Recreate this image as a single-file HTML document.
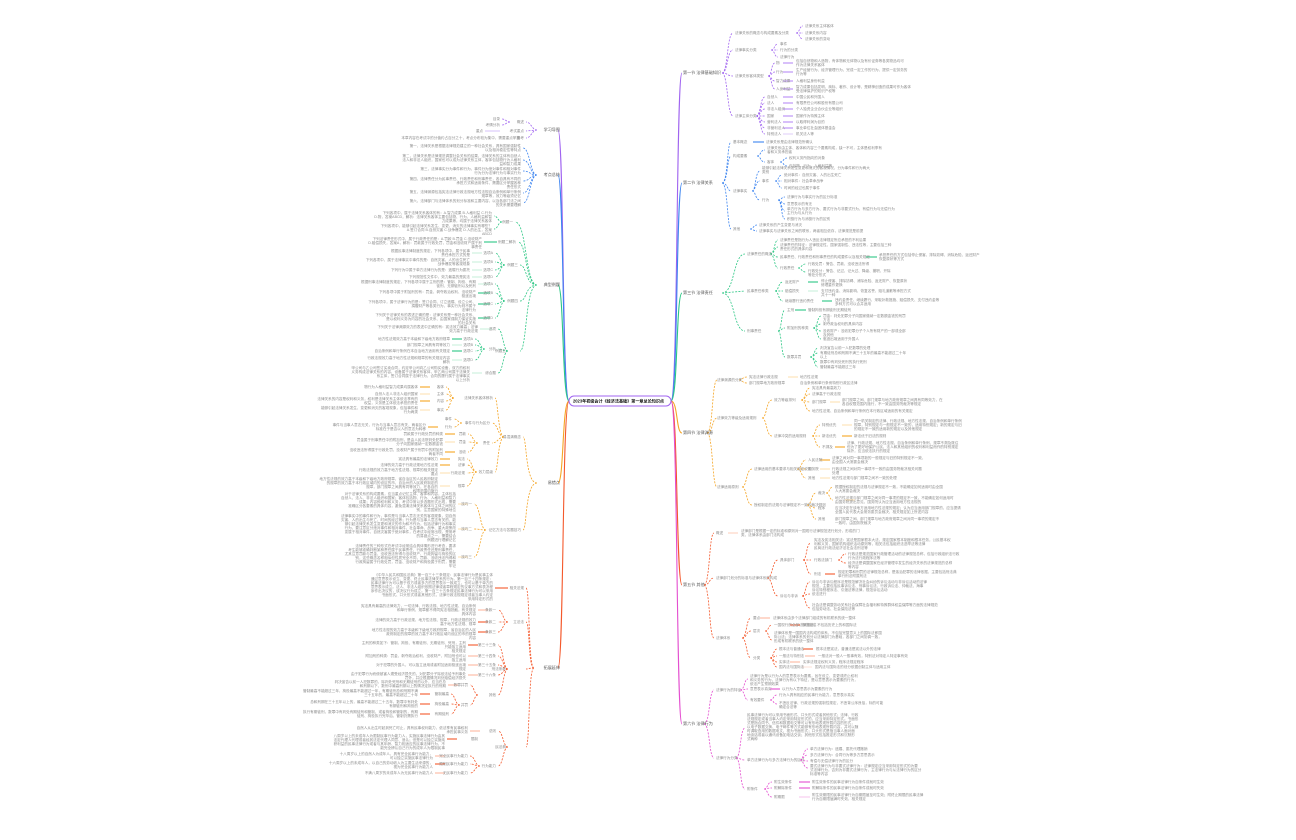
<!DOCTYPE html>
<html><head><meta charset="utf-8"><style>
html,body{margin:0;padding:0;background:#fff;}
svg{display:block}
.t{font:3.6px "Liberation Sans","Noto Sans CJK SC",sans-serif;fill:#8c8c8c}
.l{font:4.1px "Liberation Sans","Noto Sans CJK SC",sans-serif;fill:#555}
.d{fill:none;stroke-width:.8;stroke-dasharray:2 1.3}
.s{fill:none;stroke-width:1.1}
.e{text-anchor:end}
</style></head><body>
<svg width="1296" height="840" viewBox="0 0 1296 840" xmlns="http://www.w3.org/2000/svg">
<g class="s" stroke-width="1.4">
<path d="M671 401 C678 401 676 73 682 73" stroke="#a064f0"/>
<path d="M671 401 C678 401 676 183 682 183" stroke="#3d85f0"/>
<path d="M671 401 C678 401 676 293 682 293" stroke="#2cc784"/>
<path d="M671 401 C678 401 676 433 682 433" stroke="#f5a524"/>
<path d="M671 401 C678 401 676 585 682 585" stroke="#f4592c"/>
<path d="M671 401 C678 401 676 724 682 724" stroke="#e44fd0"/>
<path d="M569 401 C562 401 564 130 558 130" stroke="#a064f0"/>
<path d="M569 401 C562 401 564 175 558 175" stroke="#3d85f0"/>
<path d="M569 401 C562 401 564 285 558 285" stroke="#2cc784"/>
<path d="M569 401 C562 401 564 483 558 483" stroke="#f5a524"/>
<path d="M569 401 C562 401 564 668 558 668" stroke="#f4592c"/>
</g>
<rect x="569" y="396" width="102" height="10" rx="5" fill="#fff" stroke="#a064f0" stroke-width="1"/>
<text x="573" y="402.6" style="font:bold 4.1px 'Liberation Sans','Noto Sans CJK SC',sans-serif;fill:#111">2023年初级会计《经济法基础》第一章总论知识点</text>

<g class="d" stroke="#a064f0">
<path d="M722 73 C728 73 727 33 733 33"/><path d="M722 73 C728 73 727 50 733 50"/><path d="M722 73 C728 73 727 76 733 76"/><path d="M722 73 C728 73 727 116 733 116"/>
<path d="M796 33 C800 33 799 26 803 26"/><path d="M796 33 L803 33"/><path d="M796 33 C800 33 799 39 803 39"/>
<path d="M771 50 C775 50 774 44 778 44"/><path d="M771 50 L778 50"/><path d="M771 50 C775 50 774 57 778 57"/>
<path d="M768 76 C772 76 771 63 775 63"/><path d="M768 76 C772 76 771 72 775 72"/><path d="M768 76 C772 76 771 81 775 81"/><path d="M768 76 C772 76 771 89 775 89"/>
<path d="M756 116 C761 116 760 97 765 97"/><path d="M756 116 C761 116 760 103 765 103"/><path d="M756 116 C761 116 760 109 765 109"/><path d="M756 116 L765 116"/><path d="M756 116 C761 116 760 122 765 122"/><path d="M756 116 C761 116 760 128 765 128"/><path d="M756 116 C761 116 760 134 765 134"/>
</g>
<g class="s" stroke="#b88cf5"><path d="M783 63 H793"/><path d="M783 72 H793"/><path d="M783 81 H793"/><path d="M783 89 H793"/><path d="M783 97 H793"/><path d="M783 103 H793"/><path d="M783 109 H793"/><path d="M783 116 H793"/><path d="M783 122 H793"/><path d="M783 128 H793"/><path d="M783 134 H793" stroke="#e2d2fa"/></g>
<text class="l" x="683" y="74">第一节 法律基础知识</text>
<text class="t" x="735" y="34">法律关系的概念与构成要素及分类</text>
<text class="t" x="805" y="27">法律关系主体客体</text><text class="t" x="805" y="34">法律关系内容</text><text class="t" x="805" y="40">法律关系的变动</text>
<text class="t" x="735" y="51">法律事实分类</text>
<text class="t" x="780" y="45">事件</text><text class="t" x="780" y="51">行为的分类</text><text class="t" x="780" y="58">法律行为</text>
<text class="t" x="735" y="77">法律关系客体类型</text>
<text class="t" x="776" y="64">物</text><text class="t" x="776" y="73">行为</text><text class="t" x="776" y="82">智力成果</text><text class="t" x="776" y="90">人身利益</text>
<text class="t" x="796" y="62">包括自然物和人造物，有体物和无体物以及有价证券等各类物品均可</text><text class="t" x="796" y="66">作为法律关系客体</text>
<text class="t" x="796" y="71">生产经营行为、经济管理行为、完成一定工作的行为、提供一定劳务的</text><text class="t" x="796" y="75">行为等</text>
<text class="t" x="796" y="82">人格利益身份利益</text>
<text class="t" x="796" y="88">智力成果包括发明、商标、著作、设计等，是精神创造的成果可作为客体</text><text class="t" x="796" y="92">受法律保护的知识产权等</text>
<text class="t" x="735" y="117">法律主体分类</text>
<text class="t" x="767" y="98">自然人</text><text class="t" x="767" y="104">法人</text><text class="t" x="767" y="110">非法人组织</text><text class="t" x="767" y="117">国家</text><text class="t" x="767" y="123">营利法人</text><text class="t" x="767" y="129">非营利法人</text><text class="t" x="767" y="135">特别法人</text>
<text class="t" x="796" y="98">中国公民和外国人</text><text class="t" x="796" y="104">有限责任公司和股份有限公司</text><text class="t" x="796" y="110">个人独资企业合伙企业等组织</text><text class="t" x="796" y="117">国家作为特殊主体</text><text class="t" x="796" y="123">以取得利润为目的</text><text class="t" x="796" y="129">事业单位社会团体基金会</text><text class="t" x="796" y="135">机关法人等</text>

<g class="d" stroke="#3d85f0">
<path d="M722 183 C728 183 727 142 731 142"/><path d="M722 183 C728 183 727 156 731 156"/><path d="M722 183 C728 183 727 191 731 191"/><path d="M722 183 C728 183 727 229 731 229"/>
<path d="M757 156 C761 156 760 150 765 150"/><path d="M757 156 C761 156 760 162 765 162"/>
<path d="M780 162 C784 162 783 158 787 158"/><path d="M780 162 C784 162 783 166 787 166"/>
<path d="M752 191 C756 191 755 171 760 171"/><path d="M752 191 C756 191 755 181 760 181"/><path d="M752 191 C756 191 755 200 760 200"/>
<path d="M775 181 C779 181 778 175 782 175"/><path d="M775 181 L782 181"/><path d="M775 181 C779 181 778 188 782 188"/>
<path d="M778 200 C782 200 781 197 785 197"/><path d="M778 200 C782 200 781 204 785 204"/><path d="M778 200 C782 200 781 211 785 211"/><path d="M778 200 C782 200 781 219 785 219"/>
<path d="M750 229 C754 229 753 225 757 225"/><path d="M750 229 C754 229 753 231 757 231"/>
</g>
<path class="s" stroke="#3d85f0" d="M753 142 H764"/>
<text class="l" x="683" y="184">第二节 法律关系</text>
<text class="t" x="733" y="143">基本概念</text><text class="t" x="766" y="143">法律关系是由法律规范所确认</text>
<text class="t" x="733" y="157">构成要素</text>
<text class="t" x="767" y="149">法律关系由主体、客体和内容三个要素构成，缺一不可，主体是权利享有</text><text class="t" x="767" y="153">者和义务承担者</text>
<text class="t" x="767" y="163">客体</text><text class="t" x="789" y="159">权利义务所指向的对象</text><text class="t" x="789" y="167">包括物、行为、人格利益等</text>
<text class="t" x="733" y="192">法律事实</text>
<text class="t" x="762" y="169">能够引起法律关系发生变更和消灭的客观情况，分为事件和行为两大</text><text class="t" x="762" y="173">类别</text>
<text class="t" x="762" y="182">事件</text><text class="t" x="784" y="176">绝对事件：自然灾害、人的出生死亡</text><text class="t" x="784" y="182">相对事件：社会革命战争</text><text class="t" x="784" y="189">时间的经过也属于事件</text>
<text class="t" x="762" y="201">行为</text><text class="t" x="787" y="198">法律行为与事实行为的区分标准</text><text class="t" x="787" y="205">意思表示的有无</text><text class="t" x="787" y="210">单方行为与多方行为、要式行为与非要式行为、有偿行为与无偿行为</text><text class="t" x="787" y="214">主行为与从行为</text><text class="t" x="787" y="220">积极行为与消极行为的区别</text>
<text class="t" x="733" y="230">其他</text><text class="t" x="759" y="226">法律关系的产生变更与消灭</text><text class="t" x="759" y="232">法律事实与法律关系之间的联系，两者相互依存，法律规范是前提</text>

<g class="d" stroke="#2cc784">
<path d="M722 293 C735 293 733 254 745 254"/><path d="M722 293 L745 291"/><path d="M722 293 C735 293 733 331 745 331"/>
<path d="M770 254 C775 254 774 240 778 240"/><path d="M770 254 C775 254 774 247 778 247"/><path d="M770 254 C775 254 774 257 778 257"/><path d="M770 254 C775 254 774 268 778 268"/>
<path d="M798 268 C802 268 801 264 806 264"/><path d="M798 268 C802 268 801 272 806 272"/>
<path d="M775 291 C779 291 778 282 783 282"/><path d="M775 291 L783 291"/><path d="M775 291 C779 291 778 301 783 301"/>
<path d="M778 331 C782 331 781 310 785 310"/><path d="M778 331 C782 331 781 328 785 328"/><path d="M778 331 C782 331 781 357 785 357"/>
<path d="M813 328 C818 328 817 316 821 316"/><path d="M813 328 C818 328 817 324 821 324"/><path d="M813 328 C818 328 817 331 821 331"/><path d="M813 328 C818 328 817 339 821 339"/>
<path d="M810 357 C815 357 814 348 818 348"/><path d="M810 357 C815 357 814 353 818 353"/><path d="M810 357 C815 357 814 362 818 362"/><path d="M810 357 C815 357 814 367 818 367"/>
</g>
<g class="s" stroke="#2cc784"><path d="M866 257 H877"/><path d="M808 282 H818"/><path d="M808 291 H818" stroke="#c9f0dc"/><path d="M822 301 H832"/><path d="M795 310 H806"/></g>
<text class="l" x="683" y="294">第三节 法律责任</text>
<text class="t" x="747" y="255">法律责任的概念</text>
<text class="t" x="780" y="241">法律责任是指行为人违反法律规定所应承担的不利后果</text>
<text class="t" x="780" y="246">法律责任的特征：法律规定性、国家强制性、违法性等，主要包括三种</text><text class="t" x="780" y="250">责任形式的具体内容</text>
<text class="t" x="780" y="258">民事责任、行政责任和刑事责任的构成要件以及相关规定</text>
<text class="t" x="879" y="256">承担责任的方式包括停止侵害、排除妨碍、消除危险、返还财产</text><text class="t" x="879" y="260">恢复原状等方式</text>
<text class="t" x="780" y="269">行政责任</text><text class="t" x="808" y="265">行政处罚：警告、罚款、没收违法所得</text><text class="t" x="808" y="272">行政处分：警告、记过、记大过、降级、撤职、开除</text><text class="t" x="808" y="276">等处分形式</text>
<text class="t" x="747" y="292">民事责任种类</text>
<text class="t" x="785" y="283">返还财产</text><text class="t" x="821" y="282">停止侵害、排除妨碍、消除危险、返还财产、恢复原状</text><text class="t" x="821" y="286">修理重作更换</text>
<text class="t" x="785" y="292">赔偿损失</text><text class="t" x="821" y="292">支付违约金、消除影响、恢复名誉、赔礼道歉等承担方式</text><text class="t" x="821" y="296">共十一种</text>
<text class="t" x="785" y="302">继续履行违约责任</text><text class="t" x="835" y="301">违约金责任、继续履行、采取补救措施、赔偿损失、支付违约金等</text><text class="t" x="835" y="305">多种方式可以合并适用</text>
<text class="t" x="747" y="332">刑事责任</text>
<text class="t" x="787" y="311">主刑</text><text class="t" x="808" y="311">管制拘役有期徒刑无期徒刑</text>
<text class="t" x="787" y="329">附加刑的种类</text>
<text class="t" x="823" y="317">罚金：判处犯罪分子向国家缴纳一定数额金钱的刑罚</text><text class="t" x="823" y="321">方法</text>
<text class="t" x="823" y="325">剥夺政治权利的具体内容</text><text class="t" x="823" y="332">没收财产：没收犯罪分子个人所有财产的一部或全部</text><text class="t" x="823" y="336">及其他</text>
<text class="t" x="823" y="340">驱逐出境适用于外国人</text>
<text class="t" x="787" y="358">数罪并罚</text>
<text class="t" x="820" y="349">判决宣告以前一人犯数罪的处理</text><text class="t" x="820" y="354">有期徒刑总和刑期不满三十五年的最高不能超过二十年</text><text class="t" x="820" y="358">以上</text>
<text class="t" x="820" y="363">数罪中有判处死刑的执行死刑</text><text class="t" x="820" y="368">管制最高不能超过三年</text>

<g class="d" stroke="#f5a524">
<path d="M707 433 C713 433 712 380 717 380"/><path d="M707 433 C713 433 712 418 717 418"/><path d="M707 433 C713 433 712 487 717 487"/>
<path d="M739 380 C743 380 742 377 747 377"/><path d="M739 380 C743 380 742 383 747 383"/>
<path d="M762 418 C767 418 766 400 772 400"/><path d="M762 418 C767 418 766 436 772 436"/>
<path d="M801 400 C806 400 805 388 810 388"/><path d="M801 400 C806 400 805 394 810 394"/><path d="M801 400 C806 400 805 402 810 402"/><path d="M801 400 C806 400 805 411 810 411"/>
<path d="M812 436 C816 436 815 425 820 425"/><path d="M812 436 L820 436"/><path d="M812 436 C816 436 815 447 820 447"/>
<path d="M742 487 C747 487 746 469 752 469"/><path d="M742 487 C747 487 746 505 752 505"/>
<path d="M797 469 C802 469 801 460 806 460"/><path d="M797 469 C802 469 801 469 806 469"/><path d="M797 469 C802 469 801 478 806 478"/>
<path d="M807 505 C812 505 811 493 816 493"/><path d="M807 505 C812 505 811 508 816 508"/><path d="M807 505 C812 505 811 519 816 519"/>
<path d="M826 493 C830 493 829 487 833 487"/><path d="M826 493 C830 493 829 500 833 500"/>
</g>
<g class="s" stroke="#f5a524"><path d="M788 377 H798" stroke="#fde2b3"/><path d="M830 402 H840" stroke="#fde2b3"/><path d="M842 425 H852" stroke="#fde2b3"/><path d="M842 436 H852"/><path d="M835 447 H845"/><path d="M820 460 H830"/><path d="M820 469 H830" stroke="#fde2b3"/><path d="M820 478 H830" stroke="#fde2b3"/><path d="M845 500 H855" stroke="#fde2b3"/></g>
<text class="l" x="683" y="434">第四节 法律渊源</text>
<text class="t" x="717" y="381">法律渊源的分类</text>
<text class="t" x="749" y="378">宪法法律行政法规</text><text class="t" x="800" y="378">地方性法规</text>
<text class="t" x="749" y="384">部门规章地方政府规章</text><text class="t" x="800" y="384">自治条例和单行条例特别行政区法律</text>
<text class="t" x="717" y="419">法律效力等级及适用规则</text>
<text class="t" x="774" y="401">效力等级排列</text>
<text class="t" x="812" y="389">宪法具有最高效力</text><text class="t" x="812" y="395">法律高于行政法规</text>
<text class="t" x="812" y="403">部门规章</text><text class="t" x="842" y="401">部门规章之间、部门规章与地方政府规章之间具有同等效力，在</text><text class="t" x="842" y="405">各自权限范围内施行，不一致由国务院裁决等规定</text>
<text class="t" x="812" y="412">地方性法规、自治条例和单行条例在本行政区域适用的有关规定</text>
<text class="t" x="774" y="437">法律冲突的适用规则</text>
<text class="t" x="822" y="426">特别优先</text><text class="t" x="854" y="422">同一机关制定的法律、行政法规、地方性法规、自治条例和单行条例</text><text class="t" x="854" y="426">规章，特别规定与一般规定不一致的，适用特别规定；新的规定与旧</text><text class="t" x="854" y="430">的规定不一致的适用新的规定以及其他规定</text>
<text class="t" x="822" y="437">新法优先</text><text class="t" x="854" y="437">新法优于旧法的规则</text>
<text class="t" x="822" y="448">不溯及</text><text class="t" x="847" y="444">法律、行政法规、地方性法规、自治条例和单行条例、规章不溯及既往</text><text class="t" x="847" y="448">但为了更好地保护公民、法人和其他组织的权利和利益而作的特别规定</text><text class="t" x="847" y="452">除外，应当依法执行的规定</text>
<text class="t" x="717" y="488">法律适用原则</text>
<text class="t" x="754" y="470">法律适用的基本要求与相关规定说明</text>
<text class="t" x="808" y="461">人民法院</text><text class="t" x="832" y="459">法律之间对同一事项新的一般规定与旧的特别规定不一致，</text><text class="t" x="832" y="463">由全国人大常委会裁决</text>
<text class="t" x="808" y="470">国务院</text><text class="t" x="832" y="470">行政法规之间对同一事项不一致的由国务院裁决相关问题</text><text class="t" x="832" y="474">处理</text>
<text class="t" x="808" y="479">其他</text><text class="t" x="832" y="479">地方性法规与部门规章之间不一致的处理</text>
<text class="t" x="754" y="506">授权制定的法规与法律规定不一致的裁决规则</text>
<text class="t" x="818" y="494">裁决</text><text class="t" x="835" y="488">根据授权制定的法规与法律规定不一致，不能确定如何适用时由全国</text><text class="t" x="835" y="492">人大常委会裁决</text>
<text class="t" x="835" y="499">地方性法规与部门规章之间对同一事项的规定不一致，不能确定如何适用时</text><text class="t" x="835" y="503">由国务院提出意见，国务院认为应当适用地方性法规的</text>
<text class="t" x="818" y="509">程序</text><text class="t" x="835" y="509">应当决定在该地方适用地方性法规的规定；认为应当适用部门规章的，应当提请</text><text class="t" x="835" y="513">全国人民代表大会常务委员会裁决，相关规定如上所述内容</text>
<text class="t" x="818" y="520">其他</text><text class="t" x="835" y="520">部门规章之间、部门规章与地方政府规章之间对同一事项的规定不</text><text class="t" x="835" y="524">一致时，由国务院裁决</text>

<g class="d" stroke="#f4592c">
<path d="M704 585 C710 585 709 533 714 533"/><path d="M704 585 C710 585 709 578 714 578"/><path d="M704 585 C710 585 709 638 714 638"/>
<path d="M767 578 C773 578 772 560 778 560"/><path d="M767 578 C773 578 772 596 778 596"/>
<path d="M803 560 C807 560 806 543 811 543"/><path d="M803 560 L811 560"/><path d="M803 560 C807 560 806 574 811 574"/>
<path d="M838 560 C842 560 841 554 846 554"/><path d="M838 560 C842 560 841 563 846 563"/>
<path d="M802 596 C806 596 805 582 810 582"/><path d="M802 596 C806 596 805 594 810 594"/><path d="M802 596 C806 596 805 608 810 608"/>
<path d="M742 638 C747 638 746 618 751 618"/><path d="M742 638 C747 638 746 631 751 631"/><path d="M742 638 C747 638 746 658 751 658"/>
<path d="M765 631 C769 631 768 625 772 625"/><path d="M765 631 C769 631 768 640 772 640"/>
<path d="M770 658 C774 658 773 649 777 649"/><path d="M770 658 C774 658 773 656 777 656"/><path d="M770 658 C774 658 773 662 777 662"/><path d="M770 658 C774 658 773 667 777 667"/>
</g>
<g class="s" stroke="#f4592c"><path d="M728 533 H738" stroke="#fcd0c0"/><path d="M825 574 H835"/><path d="M760 618 H770" stroke="#fcb8a0"/><path d="M790 625 H800"/><path d="M803 649 H813"/><path d="M805 656 H815" stroke="#fcb8a0"/><path d="M790 662 H800" stroke="#fcb8a0"/><path d="M802 667 H812" stroke="#fde3da"/></g>
<text class="l" x="683" y="586">第五节 其他</text>
<text class="t" x="716" y="534">概述</text><text class="t" x="741" y="532">法律部门是根据一定的标准和原则对一国现行法律规范进行划分，形成的门</text><text class="t" x="741" y="536">类，法律体系由部门法构成</text>
<text class="t" x="716" y="579">法律部门划分的标准与法律体系的构成</text>
<text class="t" x="780" y="561">具体部门</text>
<text class="t" x="814" y="541">宪法及宪法相关法：宪法是国家根本大法，规定国家根本制度和根本任务，公民基本权</text><text class="t" x="814" y="545">利和义务，国家机构组织活动原则等，相关法包括组织法选举法等法律</text><text class="t" x="814" y="549">民商法行政法经济法社会法刑法等</text>
<text class="t" x="814" y="561">行政法部门</text><text class="t" x="848" y="555">行政法是规范国家行政管理活动的法律规范总称，包括行政组织法行政</text><text class="t" x="848" y="559">行为法行政程序法等</text><text class="t" x="848" y="564">经济法是调整国家在经济管理中发生的经济关系的法律规范的总称</text><text class="t" x="848" y="568">等内容</text>
<text class="t" x="814" y="575">刑法</text><text class="t" x="838" y="573">规定犯罪和刑罚的法律规范总称，是惩治犯罪的法律依据，主要包括刑法典</text><text class="t" x="838" y="577">单行刑法附属刑法</text>
<text class="t" x="780" y="597">诉讼与非诉</text>
<text class="t" x="812" y="583">诉讼与非诉讼程序法是规范解决社会纠纷的诉讼活动与非诉讼活动的法律</text><text class="t" x="812" y="587">规范，主要包括民事诉讼法、刑事诉讼法、行政诉讼法、仲裁法、海事</text><text class="t" x="812" y="591">诉讼特别程序法、引渡法等法律，规范诉讼活动</text><text class="t" x="812" y="595">依法进行</text>
<text class="t" x="812" y="606">社会法是调整劳动关系社会保障社会福利和特殊群体权益保障等方面的法律规范</text><text class="t" x="812" y="610">包括劳动法、社会保险法等</text>
<text class="t" x="716" y="639">法律体系</text>
<text class="t" x="753" y="619">要点</text><text class="t" x="773" y="619">法律体系由多个法律部门组成的有机联系的统一整体</text>
<text class="t" x="753" y="632">层次</text><text class="t" x="774" y="626">一国现行的全部法律规范，不包括历史上的和国际法</text><text class="t" x="802" y="626">规范组成</text>
<text class="t" x="774" y="634">法律体系是一国国内法构成的体系，不包括完整意义上的国际法即国</text><text class="t" x="774" y="638">际公法；法律体系的划分以法律部门为基础，各部门之间协调一致，</text><text class="t" x="774" y="642">形成有机联系的统一整体</text>
<text class="t" x="753" y="659">分类</text><text class="t" x="779" y="650">根本法与普通法</text><text class="t" x="816" y="650">根本法是宪法，普通法是宪法以外的法律</text>
<text class="t" x="779" y="657">一般法与特别法</text><text class="t" x="818" y="657">一般法对一般人一般事有效，特别法对特定人特定事有效</text>
<text class="t" x="779" y="663">实体法</text><text class="t" x="803" y="663">实体法规定权利义务，程序法规定程序</text>
<text class="t" x="779" y="668">国内法与国际法</text><text class="t" x="815" y="668">国内法与国际法的划分依据创制主体与适用主体</text>

<g class="d" stroke="#e44fd0">
<path d="M704 724 C710 724 709 690 714 690"/><path d="M704 724 C710 724 709 758 714 758"/>
<path d="M740 690 C745 690 744 679 748 679"/><path d="M740 690 C745 690 744 689 748 689"/><path d="M740 690 C745 690 744 700 748 700"/>
<path d="M770 700 C774 700 773 695 777 695"/><path d="M770 700 C774 700 773 704 777 704"/>
<path d="M736 758 C741 758 740 728 745 728"/><path d="M736 758 C741 758 740 760 745 760"/><path d="M736 758 C741 758 740 789 745 789"/>
<path d="M800 760 C804 760 803 749 808 749"/><path d="M800 760 C804 760 803 755 808 755"/><path d="M800 760 C804 760 803 761 808 761"/><path d="M800 760 C804 760 803 768 808 768"/>
<path d="M764 789 C768 789 767 782 772 782"/><path d="M764 789 C768 789 767 788 772 788"/><path d="M764 789 C768 789 767 797 772 797"/>
</g>
<g class="s" stroke="#e44fd0"><path d="M770 689 H780"/><path d="M799 782 H810"/><path d="M799 788 H810"/><path d="M799 797 H810" stroke="#f7c8ef"/></g>
<text class="l" x="683" y="725">第六节 法律行为</text>
<text class="t" x="716" y="691">法律行为的特征</text>
<text class="t" x="750" y="677">法律行为是以行为人的意思表示为要素，旨在设立、变更或终止权利</text><text class="t" x="750" y="681">和义务的行为，法律行为有以下特征，是以意思表示为要素的行为，</text><text class="t" x="750" y="685">依法产生预期效果</text>
<text class="t" x="750" y="690">意思表示真实</text><text class="t" x="782" y="690">以行为人意思表示为要素的行为</text>
<text class="t" x="750" y="701">有效要件</text><text class="t" x="779" y="696">行为人具有相应的民事行为能力，意思表示真实</text><text class="t" x="779" y="704">不违反法律、行政法规的强制性规定，不违背公序良俗，标的可能</text><text class="t" x="779" y="708">确定合法等</text>
<text class="t" x="716" y="759">法律行为分类</text>
<text class="t" x="747" y="716">民事法律行为可以采用书面形式、口头形式或者其他形式；法律、行政</text><text class="t" x="747" y="720">法规规定或者当事人约定采用特定形式的，应当采用特定形式。书面形</text><text class="t" x="747" y="724">式是指合同书、信件和数据电文等可以有形地表现所载内容的形式，</text><text class="t" x="747" y="728">以电子数据交换、电子邮件等方式能够有形地表现所载内容，并可以随</text><text class="t" x="747" y="732">时调取查用的数据电文，视为书面形式；口头形式是指当事人面对面</text><text class="t" x="747" y="736">地谈话或者以通讯设备如电话交谈；其他形式包括推定形式和沉默形</text><text class="t" x="747" y="740">式两种</text>
<text class="t" x="747" y="761">单方法律行为与多方法律行为的区分</text>
<text class="t" x="810" y="750">单方法律行为：遗嘱、委托代理撤销</text><text class="t" x="810" y="756">多方法律行为：合同行为等多方意思表示</text><text class="t" x="810" y="762">有偿与无偿法律行为的区分</text>
<text class="t" x="810" y="767">要式法律行为与非要式法律行为：法律规定应当采用特定形式的为要</text><text class="t" x="810" y="771">式法律行为，否则为非要式法律行为，主法律行为与从法律行为的区分</text><text class="t" x="810" y="775">标准等内容</text>
<text class="t" x="747" y="790">附条件</text>
<text class="t" x="774" y="783">附生效条件</text><text class="t" x="812" y="783">附生效条件的民事法律行为自条件成就时生效</text>
<text class="t" x="774" y="789">附解除条件</text><text class="t" x="812" y="789">附解除条件的民事法律行为自条件成就时失效</text>
<text class="t" x="774" y="798">附期限</text><text class="t" x="812" y="796">附生效期限的民事法律行为自期限届至时生效；附终止期限的民事法律</text><text class="t" x="812" y="800">行为自期限届满时失效，相关规定</text>

<g class="d" stroke="#a064f0">
<path d="M537 130 C532 130 531 122 526 122"/><path d="M537 130 L526 131"/><path d="M537 130 C532 130 531 138 526 138"/>
<path d="M510 122 C506 122 506 119 502 119"/><path d="M510 122 C506 122 506 125 502 125"/>
</g>
<path class="s" stroke="#d9c6fa" d="M485 131 H500"/>
<text class="l e" x="560" y="131">学习导图</text>
<text class="t e" x="524" y="123">概述</text><text class="t e" x="500" y="120">目录</text><text class="t e" x="500" y="126">考情分析</text>
<text class="t e" x="524" y="132">考试重点</text><text class="t e" x="483" y="132">重点</text>
<text class="t e" x="524" y="139">备考</text><text class="t e" x="520" y="139">本章内容在考试中的分值约占百分之十，考点分布较为集中，需要重点掌握</text>

<g class="d" stroke="#3d85f0">
<path d="M537 175 C530 175 530 148 523 148"/><path d="M537 175 C530 175 530 160 523 160"/><path d="M537 175 C530 175 530 171 523 171"/><path d="M537 175 C530 175 530 181 523 181"/><path d="M537 175 C530 175 530 193 523 193"/><path d="M537 175 C530 175 530 203 523 203"/>
</g>
<text class="l e" x="560" y="176">考点总结</text>
<text class="t e" x="521" y="147">第一，法律关系是根据法律规范建立的一种社会关系，具有国家强制性</text><text class="t e" x="521" y="151">以及相对稳定性等特点</text>
<text class="t e" x="521" y="157">第二，法律关系是法律规范调整社会关系的结果，法律关系的主体有自然人</text><text class="t e" x="521" y="161">法人和非法人组织，国家也可以成为法律关系主体，客体包括物行为人格利</text><text class="t e" x="521" y="165">益和智力成果</text>
<text class="t e" x="521" y="170">第三，法律事实分为事件和行为，事件分为绝对事件和相对事件</text><text class="t e" x="521" y="174">行为分为法律行为与事实行为</text>
<text class="t e" x="521" y="180">第四，法律责任分为民事责任、行政责任和刑事责任，各自具有不同的</text><text class="t e" x="521" y="184">承担方式和适用条件，需要区分掌握各种</text><text class="t e" x="521" y="188">责任形式</text>
<text class="t e" x="521" y="193">第五，法律渊源包括宪法法律行政法规地方性法规自治条例和单行条例</text><text class="t e" x="521" y="197">规章等，效力等级须记忆</text>
<text class="t e" x="521" y="202">第六，法律部门与法律体系的划分标准和主要内容，以及各部门法之间</text><text class="t e" x="521" y="206">的关系需要理解</text>

<g class="d" stroke="#2cc784">
<path d="M537 285 C525 285 527 222 515 222"/><path d="M537 285 C525 285 527 242 518 242"/><path d="M537 285 C525 285 527 265 520 265"/><path d="M537 285 C525 285 527 301 520 301"/><path d="M537 285 C525 285 527 351 520 351"/>
<path d="M502 222 C498 222 498 216 494 216"/><path d="M502 222 C498 222 498 229 494 229"/>
<path d="M505 265 C500 265 500 253 495 253"/><path d="M505 265 C500 265 500 262 495 262"/><path d="M505 265 C500 265 500 270 495 270"/><path d="M505 265 C500 265 500 277 495 277"/>
<path d="M505 301 C500 301 500 284 495 284"/><path d="M505 301 C500 301 500 293 495 293"/><path d="M505 301 C500 301 500 304 495 304"/><path d="M505 301 C500 301 500 318 495 318"/>
<path d="M508 351 C503 351 503 329 498 329"/><path d="M508 351 C503 351 503 349 498 349"/><path d="M508 351 C503 351 503 373 498 373"/>
<path d="M485 349 C480 349 480 339 475 339"/><path d="M485 349 C480 349 480 345 475 345"/><path d="M485 349 C480 349 480 351 475 351"/><path d="M485 349 C480 349 480 360 475 360"/>
</g>
<g class="s" stroke="#2cc784"><path d="M484 242 H497"/><path d="M472 253 H482" stroke="#c9f0dc"/><path d="M472 262 H482" stroke="#c9f0dc"/><path d="M472 270 H482" stroke="#c9f0dc"/><path d="M472 277 H482" stroke="#c9f0dc"/><path d="M478 284 H490" stroke="#c9f0dc"/><path d="M478 293 H490"/><path d="M478 304 H490"/><path d="M478 318 H490"/><path d="M480 329 H492" stroke="#c9f0dc"/><path d="M452 339 H462"/><path d="M452 345 H462" stroke="#c9f0dc"/><path d="M452 351 H462"/><path d="M452 360 H462" stroke="#c9f0dc"/><path d="M472 373 H482" stroke="#c9f0dc"/></g>
<text class="l e" x="560" y="286">典型例题</text>
<text class="t e" x="513" y="223">例题一</text>
<text class="t e" x="492" y="214">下列各项中，属于法律关系客体的有：A.智力成果 B.人格利益 C.行为</text><text class="t e" x="492" y="218">D.物，答案ABCD，解析：法律关系客体主要包括物、行为、人格利益和智</text><text class="t e" x="492" y="222">力成果等，均属于法律关系客体</text>
<text class="t e" x="492" y="227">下列各项中，能够引起法律关系发生、变更、消灭的法律事实有哪些？</text><text class="t e" x="492" y="231">A.签订合同 B.自然灾害 C.战争爆发 D.人的出生，答案</text><text class="t e" x="492" y="235">ABCD</text>
<text class="t e" x="516" y="243">例题二解析</text>
<text class="t e" x="482" y="240">下列法律责任形式中，属于行政责任的是：A.罚款 B.罚金 C.没收财产</text><text class="t e" x="482" y="244">D.赔偿损失，答案A，解析：罚款属于行政处罚，罚金和没收财产属于刑</text><text class="t e" x="482" y="248">事责任</text>
<text class="t e" x="518" y="266">例题三</text>
<text class="t e" x="493" y="254">选项A</text><text class="t e" x="493" y="263">选项B</text><text class="t e" x="493" y="271">选项C</text><text class="t e" x="493" y="278">选项D</text>
<text class="t e" x="470" y="252">根据民事法律制度的规定，下列各项中，属于民事</text><text class="t e" x="470" y="256">责任承担方式的是</text>
<text class="t e" x="470" y="261">下列各项中，属于法律事实中事件的是：自然灾害、人的出生死亡</text><text class="t e" x="470" y="265">战争爆发等客观现象</text>
<text class="t e" x="470" y="271">下列行为中属于单方法律行为的是：遗嘱行为委托</text>
<text class="t e" x="470" y="278">下列规范性文件中，效力最高的是宪法</text>
<text class="t e" x="518" y="302">例题四</text>
<text class="t e" x="493" y="285">选项A</text><text class="t e" x="493" y="294">选项B</text><text class="t e" x="493" y="305">选项C</text><text class="t e" x="493" y="319">选项D</text>
<text class="t e" x="476" y="283">根据刑事法律制度的规定，下列各项中属于主刑的是：管制、拘役、有期</text><text class="t e" x="476" y="287">徒刑、无期徒刑以及死刑</text>
<text class="t e" x="476" y="293">下列各项中属于附加刑的有：罚金、剥夺政治权利、没收财产</text><text class="t e" x="476" y="297">驱逐出境</text>
<text class="t e" x="476" y="303">下列各项中，属于法律行为的是：签订合同、订立遗嘱、设立公司、</text><text class="t e" x="476" y="307">捐赠财产等各类行为，事实行为则不属于</text><text class="t e" x="476" y="311">法律行为</text>
<text class="t e" x="476" y="316">下列关于法律关系的表述正确的是：法律关系是一种社会关系、</text><text class="t e" x="476" y="320">是以权利义务为内容的社会关系、由国家强制力保证实施</text><text class="t e" x="476" y="324">的社会关系</text>
<text class="t e" x="506" y="352">例题五</text>
<text class="t e" x="496" y="330">选项</text><text class="t e" x="478" y="328">下列关于法律渊源效力的表述中正确的有：宪法效力最高；法律</text><text class="t e" x="478" y="332">效力高于行政法规</text>
<text class="t e" x="496" y="350">分析</text>
<text class="t e" x="473" y="340">选项A</text><text class="t e" x="473" y="346">选项B</text><text class="t e" x="473" y="352">选项C</text><text class="t e" x="473" y="361">选项D</text>
<text class="t e" x="450" y="340">地方性法规效力高于本级和下级地方政府规章</text>
<text class="t e" x="450" y="346">部门规章之间具有同等效力</text>
<text class="t e" x="450" y="352">自治条例和单行条例在本自治地方适用有关规定</text>
<text class="t e" x="450" y="359">行政法规效力高于地方性法规和规章的有关规定内容</text><text class="t e" x="450" y="363">解析</text>
<text class="t e" x="496" y="374">综合题</text>
<text class="t e" x="470" y="369">甲公司与乙公司签订买卖合同，约定甲公司向乙公司购买设备，双方的权利</text><text class="t e" x="470" y="373">义务构成法律关系的内容，设备属于法律关系客体，甲乙两公司属于法律关</text><text class="t e" x="470" y="377">系主体，签订合同属于法律行为，合同的履行属于法律事实</text><text class="t e" x="470" y="381">以上分析</text>

<g class="d" stroke="#f5a524">
<path d="M537 483 C525 483 527 437 523 437"/><path d="M537 483 C525 483 527 530 523 530"/>
<path d="M504 437 C498 437 498 398 495 398"/><path d="M504 437 C498 437 498 423 492 423"/><path d="M504 437 C498 437 498 443 492 443"/><path d="M504 437 C498 437 498 472 495 472"/>
<path d="M454 398 C450 398 450 387 446 387"/><path d="M454 398 C450 398 450 394 446 394"/><path d="M454 398 C450 398 450 401 446 401"/><path d="M454 398 C450 398 450 410 446 410"/>
<path d="M462 423 C458 423 458 419 454 419"/><path d="M462 423 C458 423 458 427 454 427"/>
<path d="M478 443 C473 443 473 434 468 434"/><path d="M478 443 C473 443 473 442 468 442"/><path d="M478 443 C473 443 473 452 468 452"/>
<path d="M477 472 C472 472 472 459 467 459"/><path d="M477 472 C472 472 472 465 467 465"/><path d="M477 472 C472 472 472 473 467 473"/><path d="M477 472 C472 472 472 486 467 486"/>
<path d="M486 530 C480 530 480 504 474 504"/><path d="M486 530 C480 530 480 529 474 529"/><path d="M486 530 C480 530 480 557 474 557"/>
</g>
<g class="s" stroke="#f5a524"><path d="M420 387 H430"/><path d="M420 394 H430" stroke="#fde2b3"/><path d="M420 401 H430"/><path d="M420 410 H430" stroke="#fde2b3"/><path d="M428 427 H438"/><path d="M445 434 H455"/><path d="M445 442 H455" stroke="#fde2b3"/><path d="M445 452 H455"/><path d="M440 459 H450"/><path d="M440 465 H450"/><path d="M440 473 H450" stroke="#fde2b3"/><path d="M440 486 H450" stroke="#fde2b3"/><path d="M458 504 H468" stroke="#fde2b3"/><path d="M458 529 H468" stroke="#fde2b3"/><path d="M458 557 H468" stroke="#fde2b3"/></g>
<text class="l e" x="560" y="484">易错点</text>
<text class="t e" x="521" y="438">易混淆概念</text>
<text class="t e" x="493" y="399">法律关系客体辨析</text>
<text class="t e" x="444" y="388">客体</text><text class="t e" x="444" y="395">主体</text><text class="t e" x="444" y="402">内容</text><text class="t e" x="444" y="411">事实</text>
<text class="t e" x="418" y="388">物行为人格利益智力成果均属客体</text>
<text class="t e" x="418" y="395">自然人法人非法人组织国家</text>
<text class="t e" x="418" y="400">法律关系的内容是权利和义务，权利是法律关系主体依法享有的</text><text class="t e" x="418" y="404">权益，义务是主体依法承担的责任</text>
<text class="t e" x="418" y="409">能够引起法律关系发生、变更和消灭的客观现象，包括事件和</text><text class="t e" x="418" y="413">行为两类</text>
<text class="t e" x="490" y="424">事件与行为区分</text>
<text class="t e" x="452" y="420">事件</text><text class="t e" x="452" y="428">行为</text>
<text class="t e" x="426" y="426">事件与当事人意志无关，行为与当事人意志有关，两者区分</text><text class="t e" x="426" y="430">标准在于是否以人的意志为转移</text>
<text class="t e" x="490" y="444">责任</text>
<text class="t e" x="466" y="435">罚款</text><text class="t e" x="466" y="443">罚金</text><text class="t e" x="466" y="453">没收</text>
<text class="t e" x="443" y="435">罚款属于行政处罚的种类</text>
<text class="t e" x="443" y="441">罚金属于刑事责任中的附加刑，是由人民法院判处犯罪</text><text class="t e" x="443" y="445">分子向国家缴纳一定数额金钱</text>
<text class="t e" x="443" y="451">没收违法所得属于行政处罚，没收财产属于刑罚中的附加刑</text><text class="t e" x="443" y="455">两者不同</text>
<text class="t e" x="493" y="473">效力层级</text>
<text class="t e" x="465" y="460">宪法</text><text class="t e" x="465" y="466">法律</text><text class="t e" x="465" y="474">行政法规</text><text class="t e" x="465" y="487">规章</text>
<text class="t e" x="438" y="460">宪法具有最高的法律效力</text>
<text class="t e" x="438" y="466">法律的效力高于行政法规地方性法规</text>
<text class="t e" x="438" y="471">行政法规的效力高于地方性法规、规章的相关规定</text><text class="t e" x="438" y="475">要点</text>
<text class="t e" x="438" y="480">地方性法规的效力高于本级和下级地方政府规章，省自治区的人民政府制定</text><text class="t e" x="438" y="484">的规章的效力高于本行政区域内的设区的市、自治州的人民政府制定的</text><text class="t e" x="438" y="488">规章，部门规章之间具有同等效力，在各自的</text><text class="t e" x="438" y="492">权限范围内施行</text>
<text class="t e" x="521" y="531">记忆方法与答题技巧</text>
<text class="t e" x="472" y="505">技巧一</text>
<text class="t e" x="456" y="495">对于法律关系的构成要素，应当重点记忆主体、客体和内容，主体包括</text><text class="t e" x="456" y="499">自然人、法人、非法人组织和国家；客体包括物、行为、人格利益和智力</text><text class="t e" x="456" y="503">成果；内容即权利和义务，考试中常以多选题形式出现，需要</text><text class="t e" x="456" y="507">准确区分各要素的具体内容，避免混淆法律关系客体与主体之间的区</text><text class="t e" x="456" y="511">别，注意国家的特殊地位</text>
<text class="t e" x="472" y="530">技巧二</text>
<text class="t e" x="456" y="517">法律事实中的事件和行为，事件是与当事人意志无关的客观现象，如自然</text><text class="t e" x="456" y="521">灾害、人的出生与死亡、时间的经过等；行为是与当事人意志有关的、能</text><text class="t e" x="456" y="525">够引起法律关系发生变更和消灭的作为和不作为，包括法律行为和事实</text><text class="t e" x="456" y="529">行为，要注意区分绝对事件和相对事件，社会革命、战争、重大政策改</text><text class="t e" x="456" y="533">变属于相对事件，自然灾害属于绝对事件，在考试中经常出现，是常考</text><text class="t e" x="456" y="537">的易错点之一，需要结合</text><text class="t e" x="456" y="541">例题进行理解记忆</text>
<text class="t e" x="472" y="558">技巧三</text>
<text class="t e" x="456" y="547">法律责任的三种形式在考试中经常结合具体情形进行考查，要求</text><text class="t e" x="456" y="551">考生能够准确判断某种责任属于民事责任、行政责任还是刑事责任，</text><text class="t e" x="456" y="555">尤其注意罚款与罚金、没收违法所得与没收财产、行政拘留与拘役的区</text><text class="t e" x="456" y="559">别，这些概念名称相似但性质完全不同，罚款、没收违法所得和</text><text class="t e" x="456" y="563">行政拘留属于行政处罚，罚金、没收财产和拘役属于刑罚，需要</text><text class="t e" x="456" y="567">牢记</text>

<g class="d" stroke="#f4592c">
<path d="M534 668 C528 668 530 588 526 588"/><path d="M534 668 C528 668 530 622 526 622"/><path d="M534 668 C528 668 530 669 526 669"/><path d="M534 668 C528 668 530 747 526 747"/>
<path d="M508 622 C503 622 503 610 498 610"/><path d="M508 622 C503 622 503 622 498 622"/><path d="M508 622 C503 622 503 632 498 632"/>
<path d="M508 669 C503 669 503 645 498 645"/><path d="M508 669 C503 669 503 656 498 656"/><path d="M508 669 C503 669 503 665 498 665"/><path d="M508 669 C503 669 503 675 498 675"/><path d="M508 669 C503 669 503 695 498 695"/>
<path d="M478 695 C474 695 474 685 470 685"/><path d="M478 695 C474 695 474 705 470 705"/>
<path d="M460 705 C455 705 455 694 451 694"/><path d="M460 705 C455 705 455 704 451 704"/><path d="M460 705 C455 705 455 714 451 714"/>
<path d="M508 747 C503 747 503 731 498 731"/><path d="M508 747 C503 747 503 766 498 766"/>
<path d="M480 766 C475 766 475 756 470 756"/><path d="M480 766 C475 766 475 764 470 764"/><path d="M480 766 C475 766 475 773 470 773"/>
</g>
<g class="s" stroke="#f4592c"><path d="M495 588 H508"/><path d="M478 610 H488" stroke="#fcb8a0"/><path d="M478 622 H488"/><path d="M478 632 H488"/><path d="M468 645 H478"/><path d="M468 656 H478" stroke="#fcb8a0"/><path d="M468 665 H478" stroke="#fcb8a0"/><path d="M468 675 H478" stroke="#fcb8a0"/><path d="M448 685 H458" stroke="#fcb8a0"/><path d="M420 694 H430"/><path d="M420 704 H430"/><path d="M420 714 H430"/><path d="M470 731 H480" stroke="#fcb8a0"/><path d="M447 739 H457"/><path d="M435 756 H445" stroke="#fcb8a0"/><path d="M435 764 H445"/><path d="M435 773 H445" stroke="#fcb8a0"/></g>
<text class="l e" x="560" y="669">拓展延伸</text>
<text class="t e" x="524" y="589">相关法规</text>
<text class="t e" x="493" y="576">《中华人民共和国民法典》第一百三十三条规定：民事法律行为是民事主体</text><text class="t e" x="493" y="580">通过意思表示设立、变更、终止民事法律关系的行为。第一百三十四条规定：</text><text class="t e" x="493" y="584">民事法律行为可以基于双方或者多方的意思表示一致成立，也可以基于单方的</text><text class="t e" x="493" y="588">意思表示成立。法人、非法人组织依照法律或者章程规定的议事方式和表决程</text><text class="t e" x="493" y="592">序作出决议的，该决议行为成立。第一百三十五条规定民事法律行为可以采用</text><text class="t e" x="493" y="596">书面形式、口头形式或者其他形式，法律行政法规规定或者当事人约定</text><text class="t e" x="493" y="600">采用特定形式的</text>
<text class="t e" x="524" y="623">立法法</text>
<text class="t e" x="496" y="611">条款一</text><text class="t e" x="496" y="623">条款二</text><text class="t e" x="496" y="633">条款三</text>
<text class="t e" x="476" y="607">宪法具有最高的法律效力，一切法律、行政法规、地方性法规、自治条例</text><text class="t e" x="476" y="611">和单行条例、规章都不得同宪法相抵触，有关规定</text><text class="t e" x="476" y="615">具体内容</text>
<text class="t e" x="476" y="621">法律的效力高于行政法规、地方性法规、规章，行政法规的效力</text><text class="t e" x="476" y="625">高于地方性法规、规章</text>
<text class="t e" x="476" y="631">地方性法规的效力高于本级和下级地方政府规章，省自治区的人民</text><text class="t e" x="476" y="635">政府制定的规章的效力高于本行政区域内设区的市的规章</text><text class="t e" x="476" y="639">内容</text>
<text class="t e" x="506" y="670">刑法条款</text>
<text class="t e" x="496" y="646">第三十三条</text><text class="t e" x="496" y="657">第三十四条</text><text class="t e" x="496" y="666">第三十五条</text><text class="t e" x="496" y="676">第三十六条</text>
<text class="t e" x="466" y="644">主刑的种类如下：管制、拘役、有期徒刑、无期徒刑、死刑，主刑</text><text class="t e" x="466" y="648">只能独立适用</text><text class="t e" x="466" y="652">相关规定</text>
<text class="t e" x="466" y="657">附加刑的种类：罚金、剥夺政治权利、没收财产，附加刑也可以</text><text class="t e" x="466" y="661">独立适用</text>
<text class="t e" x="466" y="666">对于犯罪的外国人，可以独立适用或者附加适用驱逐出境</text><text class="t e" x="466" y="670">规定</text>
<text class="t e" x="466" y="675">由于犯罪行为而使被害人遭受经济损失的，对犯罪分子除依法给予刑事处</text><text class="t e" x="466" y="679">罚外，并应根据情况判处赔偿经济损失</text>
<text class="t e" x="496" y="696">其他</text>
<text class="t e" x="468" y="686">数罪并罚</text><text class="t e" x="446" y="683">判决宣告以前一人犯数罪的，除判处死刑和无期徒刑的以外，应当在总</text><text class="t e" x="446" y="687">和刑期以下、数刑中最高刑期以上酌情决定执行的刑期</text>
<text class="t e" x="468" y="706">并罚</text>
<text class="t e" x="449" y="695">管制最高</text><text class="t e" x="449" y="705">拘役最高</text><text class="t e" x="449" y="715">有期徒刑</text>
<text class="t e" x="418" y="692">管制最高不能超过三年，拘役最高不能超过一年，有期徒刑总和刑期不满</text><text class="t e" x="418" y="696">三十五年的，最高不能超过二十年</text>
<text class="t e" x="418" y="703">总和刑期在三十五年以上的，最高不能超过二十五年，数罪中有判处</text><text class="t e" x="418" y="707">有期徒刑和拘役的</text>
<text class="t e" x="418" y="713">执行有期徒刑，数罪中有判处有期徒刑和管制，或者拘役和管制的，有期</text><text class="t e" x="418" y="717">徒刑、拘役执行完毕后，管制仍需执行</text>
<text class="t e" x="506" y="748">民法典</text>
<text class="t e" x="496" y="732">总则</text><text class="t e" x="468" y="729">自然人从出生时起到死亡时止，具有民事权利能力，依法享有民事权利</text><text class="t e" x="468" y="733">承担民事义务</text>
<text class="t e" x="496" y="767">行为能力</text>
<text class="t e" x="478" y="740">限制</text><text class="t e" x="445" y="737">八周岁以上的未成年人为限制民事行为能力人，实施民事法律行为由其</text><text class="t e" x="445" y="741">法定代理人代理或者经其法定代理人同意、追认；但是可以独立实施纯</text><text class="t e" x="445" y="745">获利益的民事法律行为或者与其年龄、智力相适应的民事法律行为，不</text><text class="t e" x="445" y="749">能完全辨认自己行为的成年人为限制民事</text>
<text class="t e" x="468" y="757">完全民事行为能力</text><text class="t e" x="468" y="765">限制民事行为能力</text><text class="t e" x="468" y="774">无民事行为能力</text>
<text class="t e" x="433" y="755">十八周岁以上的自然人为成年人，具有完全民事行为能力，</text><text class="t e" x="433" y="759">可以独立实施民事法律行为</text>
<text class="t e" x="433" y="764">十六周岁以上的未成年人，以自己的劳动收入为主要生活来源的，</text><text class="t e" x="433" y="768">视为完全民事行为能力人</text>
<text class="t e" x="433" y="774">不满八周岁的未成年人为无民事行为能力人</text>
</svg>
</body></html>
